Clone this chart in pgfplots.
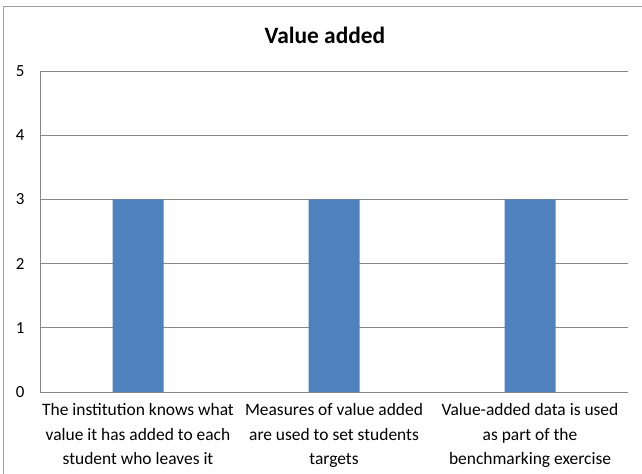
\documentclass[border=0pt]{standalone}
\usepackage{pgfplots}
\pgfplotsset{compat=1.18}
\usepackage{fontspec}
\setmainfont{Carlito}
\definecolor{barblue}{HTML}{4F81BD}
\definecolor{gridgray}{HTML}{868686}
\begin{document}
\begin{tikzpicture}[x=1bp,y=1bp]
\useasboundingbox (0,0) rectangle (642,474);
% chart frame (cropped at right and bottom)
\draw[gridgray!80, line width=1bp] (3,-2) -- (3,467) -- (644,467);
\node[font=\fontsize{23.5}{26}\selectfont\bfseries] at (325,439) {Value added};
\begin{axis}[
  at={(40bp,82bp)}, anchor=south west,
  scale only axis, width=588bp, height=321bp,
  xmin=-0.5, xmax=2.5, ymin=0, ymax=5,
  axis x line=bottom, axis y line=left,
  axis line style={gridgray, line width=0.8bp, -},
  ytick={0,1,2,3,4,5},
  ymajorgrids, grid style={gridgray, line width=0.8bp},
  major tick length=0pt,
  xtick=data,
  xticklabels={{The institution knows what\\value it has added to each\\student who leaves it},
               {Measures of value added\\are used to set students\\targets},
               {Value-added data is used\\as part of the\\benchmarking exercise}},
  xticklabel style={align=center, font=\fontsize{17.5}{24.5}\selectfont, yshift=-8bp},
  yticklabel style={font=\fontsize{17}{19}\selectfont, xshift=-12bp},
  /pgf/number format/assume math mode=true,
  ybar, bar width=51bp,
]
\addplot[fill=barblue, draw=none] coordinates {(0,3) (1,3) (2,3)};
\end{axis}
\end{tikzpicture}
\end{document}
